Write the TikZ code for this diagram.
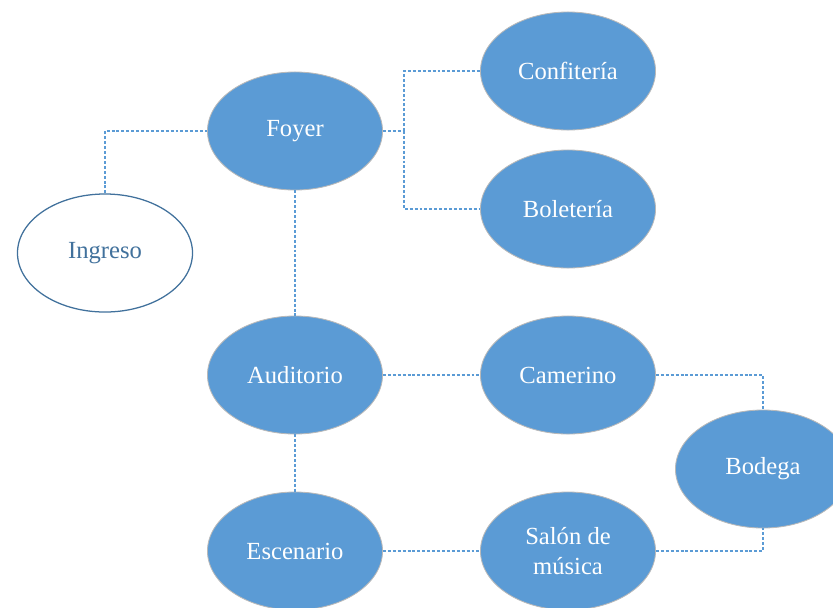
\documentclass[tikz,border=0pt]{standalone}
\usepackage{fontspec}
\setmainfont{Liberation Serif}
\usepackage{xcolor}
\usetikzlibrary{shapes.geometric, positioning, calc}
\definecolor{roomblue}{HTML}{5B9BD5}
\definecolor{edgeblue}{HTML}{41719C}
\tikzset{
  room/.style={ellipse, draw=gray!55, line width=0.6pt, fill=roomblue,
    text=white, inner sep=0pt, minimum width=4.375cm, minimum height=2.95cm,
    font=\fontsize{17.5}{21}\selectfont, align=center},
  entry/.style={room, fill=white, draw=edgeblue, line width=0.9pt, text=edgeblue},
  link/.style={draw=roomblue, line width=1.4pt, dash pattern=on 2.1pt off 1.4pt}
}
\begin{document}
\begin{tikzpicture}[x=0.025cm, y=-0.025cm]
  \useasboundingbox (0,0) rectangle (833,607);
  % Rooms
  \node[room] (Foyer) at (295,131) {Foyer};
  \node[room] (Confiteria) at (568,71) {Confitería};
  \node[room] (Boleteria) at (568,209) {Boletería};
  \node[entry] (Ingreso) at (105,253) {Ingreso};
  \node[room] (Auditorio) at (295,375) {Auditorio};
  \node[room] (Camerino) at (568,375) {Camerino};
  \node[room] (Bodega) at (763,469) {Bodega};
  \node[room] (Escenario) at (295,551) {Escenario};
  \node[room] (Salon) at (568,551) {Salón de\\música};
  % Branch point right of the foyer
  \coordinate (split) at (404,131);
  % Connections
  \draw[link] (Ingreso.north) |- (Foyer.west);
  \draw[link] (Foyer.east) -- (split);
  \draw[link] (split) |- (Confiteria.west);
  \draw[link] (split) |- (Boleteria.west);
  \draw[link] (Foyer.south) -- (Auditorio.north);
  \draw[link] (Auditorio.east) -- (Camerino.west);
  \draw[link] (Auditorio.south) -- (Escenario.north);
  \draw[link] (Escenario.east) -- (Salon.west);
  \draw[link] (Camerino.east) -| (Bodega.north);
  \draw[link] (Salon.east) -| (Bodega.south);
\end{tikzpicture}
\end{document}
